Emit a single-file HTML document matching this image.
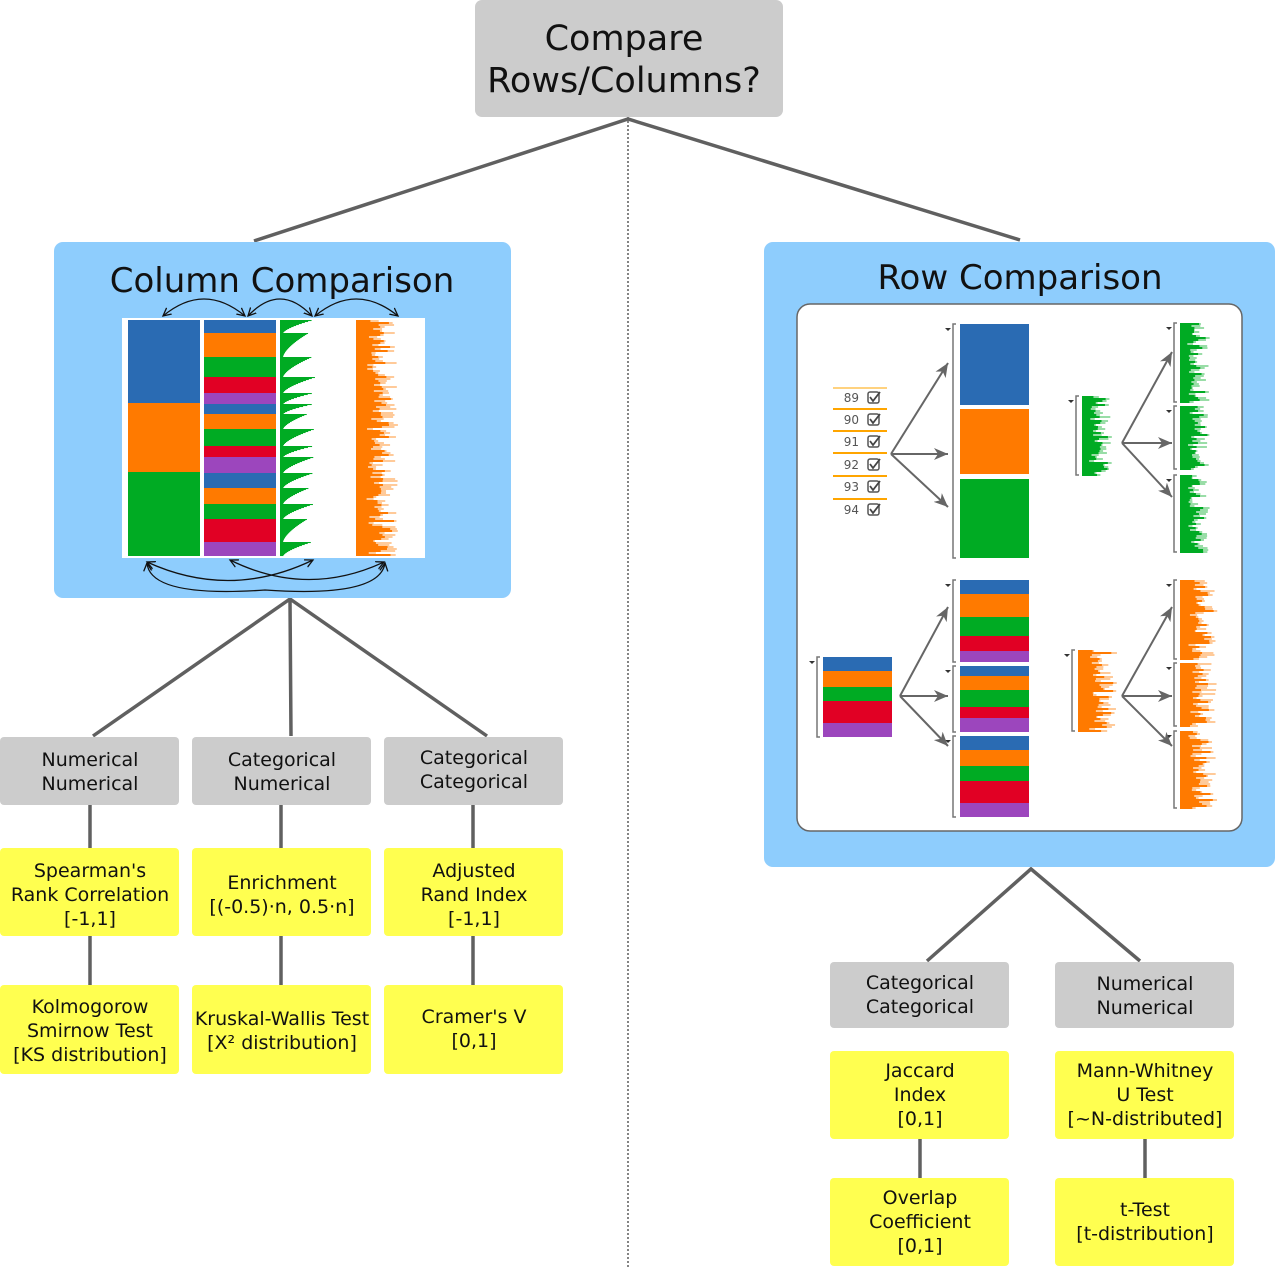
<!DOCTYPE html>
<html><head><meta charset="utf-8"><style>
html,body{margin:0;padding:0;background:#fff;}
svg{display:block;font-family:"DejaVu Sans","Liberation Sans",sans-serif;}
</style></head><body>
<svg id="s" width="1275" height="1269" viewBox="0 0 1275 1269" xmlns="http://www.w3.org/2000/svg">
<defs>
<marker id="ab" markerWidth="10" markerHeight="10" refX="8" refY="5" orient="auto-start-reverse" markerUnits="userSpaceOnUse"><path d="M0,1 L8,5 L0,9" fill="none" stroke="#111" stroke-width="1.3"/></marker>
<marker id="ag" markerWidth="16" markerHeight="12" refX="14" refY="6" orient="auto" markerUnits="userSpaceOnUse"><path d="M0,0 L14,6 L0,12 L4,6 Z" fill="#666"/></marker>
</defs>
<rect x="475" y="0" width="308" height="117" rx="7" fill="#cccccc"/>
<text x="624" y="50" font-size="35" text-anchor="middle" fill="#111">Compare</text>
<text x="624" y="92" font-size="35" text-anchor="middle" fill="#111">Rows/Columns?</text>
<line x1="628" y1="117" x2="628" y2="1269" stroke="#333" stroke-width="1.2" stroke-dasharray="2,2"/>
<g stroke="#606060" stroke-width="3.5" fill="none">
<path d="M254,241 L628,119 L1020,240"/>
<path d="M93,736 L290,599 L487,736 M290,599 L291,736"/>
<path d="M90,805 V848 M281,805 V848 M473,805 V848 M90,936 V985 M281,936 V985 M473,936 V985"/>
<path d="M927,961 L1031,869 L1140,961"/>
<path d="M920,1139 V1178 M1145,1139 V1178"/>
</g>
<rect x="54" y="242" width="457" height="356" rx="9" fill="#8ecdfd"/>
<text x="282" y="292" font-size="34" text-anchor="middle" fill="#111">Column Comparison</text>
<rect x="122" y="318" width="303" height="240" fill="#fff"/>
<g id="cols"></g>
<g fill="none" stroke="#111" stroke-width="1.3" marker-start="url(#ab)" marker-end="url(#ab)">
<path d="M163,316 Q204,282 245,316"/>
<path d="M248,316 Q280,282 312,316"/>
<path d="M315,316 Q356,282 398,316"/>
<path d="M147,562 Q230,600 313,560"/>
<path d="M230,560 Q307,598 384,562"/>
<path d="M147,563 Q150,598 265,590 Q380,598 385,563"/>
</g>
<g font-size="19" text-anchor="middle" fill="#111">
<rect x="0" y="737" width="179" height="68" rx="4" fill="#cccccc"/>
<rect x="192" y="737" width="179" height="68" rx="4" fill="#cccccc"/>
<rect x="384" y="737" width="179" height="68" rx="4" fill="#cccccc"/>
<text x="90" y="766">Numerical</text><text x="90" y="790">Numerical</text>
<text x="282" y="766">Categorical</text><text x="282" y="790">Numerical</text>
<text x="474" y="764">Categorical</text><text x="474" y="788">Categorical</text>
<rect x="0" y="848" width="179" height="88" rx="4" fill="#ffff50"/>
<rect x="192" y="848" width="179" height="88" rx="4" fill="#ffff50"/>
<rect x="384" y="848" width="179" height="88" rx="4" fill="#ffff50"/>
<text x="90" y="877">Spearman's</text><text x="90" y="901">Rank Correlation</text><text x="90" y="925">[-1,1]</text>
<text x="282" y="889">Enrichment</text><text x="282" y="913">[(-0.5)·n, 0.5·n]</text>
<text x="474" y="877">Adjusted</text><text x="474" y="901">Rand Index</text><text x="474" y="925">[-1,1]</text>
<rect x="0" y="985" width="179" height="89" rx="4" fill="#ffff50"/>
<rect x="192" y="985" width="179" height="89" rx="4" fill="#ffff50"/>
<rect x="384" y="985" width="179" height="89" rx="4" fill="#ffff50"/>
<text x="90" y="1013">Kolmogorow</text><text x="90" y="1037">Smirnow Test</text><text x="90" y="1061">[KS distribution]</text>
<text x="282" y="1025">Kruskal-Wallis Test</text><text x="282" y="1049">[X² distribution]</text>
<text x="474" y="1023">Cramer's V</text><text x="474" y="1047">[0,1]</text>
</g>
<rect x="764" y="242" width="511" height="625" rx="9" fill="#8ecdfd"/>
<text x="1020" y="289" font-size="34" text-anchor="middle" fill="#111">Row Comparison</text>
<rect x="797" y="304" width="445" height="527" rx="13" fill="#fff" stroke="#666" stroke-width="1.5"/>
<g id="rows"></g>
<g stroke="#666" stroke-width="2" fill="none" marker-end="url(#ag)">
<path d="M891,454 L948,363"/><path d="M891,454 L948,454"/><path d="M891,454 L948,507"/>
<path d="M1122,443 L1172,352"/><path d="M1122,443 L1172,443"/><path d="M1122,443 L1172,497"/>
<path d="M900,696 L948,607"/><path d="M900,696 L948,696"/><path d="M900,696 L948,746"/>
<path d="M1122,696 L1172,607"/><path d="M1122,696 L1172,696"/><path d="M1122,696 L1172,746"/>
</g>
<g font-size="12" fill="#555" text-anchor="end">
<text x="859" y="402">89</text><text x="859" y="424">90</text><text x="859" y="446">91</text>
<text x="859" y="469">92</text><text x="859" y="491">93</text><text x="859" y="514">94</text>
</g>
<g font-size="19" text-anchor="middle" fill="#111">
<rect x="830" y="962" width="179" height="66" rx="4" fill="#cccccc"/>
<rect x="1055" y="962" width="179" height="66" rx="4" fill="#cccccc"/>
<text x="920" y="989">Categorical</text><text x="920" y="1013">Categorical</text>
<text x="1145" y="990">Numerical</text><text x="1145" y="1014">Numerical</text>
<rect x="830" y="1051" width="179" height="88" rx="4" fill="#ffff50"/>
<rect x="1055" y="1051" width="179" height="88" rx="4" fill="#ffff50"/>
<text x="920" y="1077">Jaccard</text><text x="920" y="1101">Index</text><text x="920" y="1125">[0,1]</text>
<text x="1145" y="1077">Mann-Whitney</text><text x="1145" y="1101">U Test</text><text x="1145" y="1125">[~N-distributed]</text>
<rect x="830" y="1178" width="179" height="88" rx="4" fill="#ffff50"/>
<rect x="1055" y="1178" width="179" height="88" rx="4" fill="#ffff50"/>
<text x="920" y="1204">Overlap</text><text x="920" y="1228">Coefficient</text><text x="920" y="1252">[0,1]</text>
<text x="1145" y="1216">t-Test</text><text x="1145" y="1240">[t-distribution]</text>
</g>
</svg>
<script>
(function(){
var NS="http://www.w3.org/2000/svg";
var seed=12345;function rnd(){seed=(seed*1103515245+12345)%2147483648;return seed/2147483648;}
function R(g,x,y,w,h,f,op){var r=document.createElementNS(NS,"rect");r.setAttribute("x",x);r.setAttribute("y",y);r.setAttribute("width",w);r.setAttribute("height",h);r.setAttribute("fill",f);if(op)r.setAttribute("opacity",op);g.appendChild(r);}
function L(g,d,c,w){var p=document.createElementNS(NS,"path");p.setAttribute("d",d);p.setAttribute("stroke",c||"#777");p.setAttribute("stroke-width",w||1.5);p.setAttribute("fill","none");g.appendChild(p);}
var C={b:"#2a6bb3",o:"#ff7a00",g:"#00ab23",r:"#e10024",p:"#9c46bd"};
function stack(g,x,w,segs){for(var i=0;i<segs.length;i++){var s=segs[i];R(g,x,s[0],w,s[1]-s[0],C[s[2]]);}}
function hist(g,x,y0,y1,w,col){R(g,x,y0,2,y1-y0,col);for(var y=y0;y<y1;y+=2){var a=w*(0.4+0.6*rnd());R(g,x,y,a,2,col,0.4);R(g,x,y,a*(0.55+0.4*rnd()),2,col);}}
var cg=document.getElementById("cols");
stack(cg,128,72,[[320,403,"b"],[403,472,"o"],[472,556,"g"]]);
stack(cg,204,72,[[320,333,"b"],[333,357,"o"],[357,377,"g"],[377,393,"r"],[393,404,"p"],[404,414,"b"],[414,429,"o"],[429,446,"g"],[446,457,"r"],[457,473,"p"],[473,488,"b"],[488,504,"o"],[504,519,"g"],[519,542,"r"],[542,556,"p"]]);
var segs=[320,333,357,377,393,404,414,429,446,457,473,488,504,519,542,556];
for(var i=0;i<segs.length-1;i++){var a=segs[i],b=segs[i+1],tp=22+rnd()*10;for(var y=a;y<b;y+=1){var w=tp*Math.pow(1-(y-a)/(b-a),1.6)+3;R(cg,280,y,w,1.05,C.g);}}
R(cg,280,320,3,236,C.g);
hist(cg,356,320,556,42,C.o);
var rg=document.getElementById("rows");
var ly=[388,409,431,453,476,499];
for(var i=0;i<ly.length;i++){R(rg,833,ly[i]-1,54,2,"#ffa500",i==0?0.5:1);}
var cy=[397,419,441,464,486,509];
for(var i=0;i<cy.length;i++){var r=document.createElementNS(NS,"rect");r.setAttribute("x",868);r.setAttribute("y",cy[i]-5);r.setAttribute("width",11);r.setAttribute("height",11);r.setAttribute("rx",2);r.setAttribute("fill","none");r.setAttribute("stroke","#555");r.setAttribute("stroke-width",1.5);rg.appendChild(r);L(rg,"M870,"+cy[i]+" l3,4 l7,-9","#444",1.8);}
function br(x,y0,y1){L(rg,"M"+(x+3)+","+y0+" h-3 V"+y1+" h3","#777",1.5);var p=document.createElementNS(NS,"path");p.setAttribute("d","M"+(x-8)+","+(y0+4)+" h6 l-3,3 z");p.setAttribute("fill","#333");rg.appendChild(p);}
br(953,324,558);
stack(rg,960,69,[[324,405,"b"],[409,474,"o"],[479,558,"g"]]);
br(1076,396,475);hist(rg,1082,396,475,30,C.g);
br(1174,323,402);hist(rg,1180,323,402,30,C.g);
br(1174,406,469);hist(rg,1180,406,469,30,C.g);
br(1174,475,552);hist(rg,1180,475,552,30,C.g);
br(817,657,737);
stack(rg,823,69,[[657,671,"b"],[671,687,"o"],[687,701,"g"],[701,723,"r"],[723,737,"p"]]);
br(953,580,662);br(953,666,732);br(953,736,817);
stack(rg,960,69,[[580,594,"b"],[594,617,"o"],[617,636,"g"],[636,651,"r"],[651,662,"p"]]);
stack(rg,960,69,[[666,676,"b"],[676,690,"o"],[690,707,"g"],[707,718,"r"],[718,732,"p"]]);
stack(rg,960,69,[[736,750,"b"],[750,766,"o"],[766,781,"g"],[781,803,"r"],[803,817,"p"]]);
br(1072,650,731);hist(rg,1078,650,731,39,C.o);
br(1174,580,659);hist(rg,1180,580,659,38,C.o);
br(1174,663,726);hist(rg,1180,663,726,38,C.o);
br(1174,731,808);hist(rg,1180,731,808,38,C.o);
})();
</script>
</body></html>
